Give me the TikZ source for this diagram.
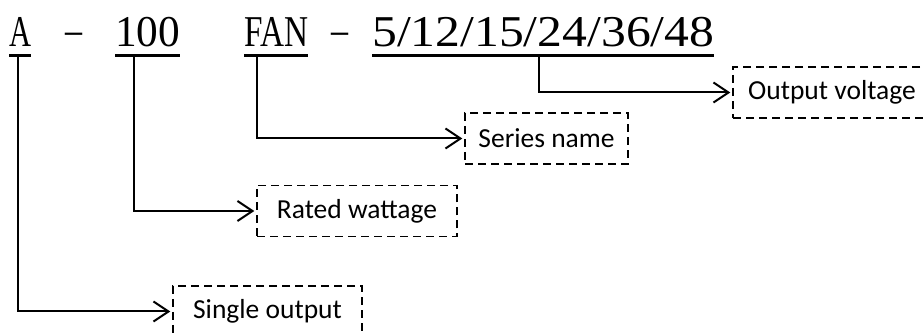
\documentclass[tikz,border=0pt]{standalone}
\usepackage{fontspec}
\setmainfont{Liberation Serif}
\newfontfamily\labelfont{Carlito}
\usetikzlibrary{arrows.meta, positioning, calc}
\newcommand{\codepart}[2]{\resizebox{#1}{\height}{#2}}

\begin{document}
\begin{tikzpicture}[x=1pt,y=-1pt,>={Straight Barb[length=15pt,width=20pt]}]
	\tikzstyle{code}=[inner sep=0pt,anchor=base west,font=\fontsize{44}{44}\selectfont]
	\tikzstyle{uline}=[line width=3pt]
	\tikzstyle{link}=[->,line width=2pt,shorten >=2pt]
	\tikzstyle{tag}=[draw,dash pattern=on 8pt off 5pt,line width=1.5pt,inner sep=0pt,minimum height=51pt,font=\labelfont\fontsize{27.5}{27.5}\selectfont]
	
	\useasboundingbox (0,0) rectangle (923,336);
	
	% model code
	\node[code] (pa)    at (9,47)   {\codepart{22pt}{A}};
	\node[code,anchor=base] (d1) at (73.5,45) {\codepart{17pt}{–}};
	\node[code] (pwatt) at (115,47) {\codepart{65pt}{100}};
	\node[code] (pfan)  at (244,47) {\codepart{64pt}{FAN}};
	\node[code,anchor=base] (d2) at (340,45) {\codepart{17pt}{–}};
	\node[code] (pvolt) at (372,47) {\codepart{342pt}{5/12/15/24/36/48}};
	
	\foreach \p in {pa,pwatt,pfan,pvolt}
		\draw[uline] ($(\p.base west)+(0,8.5)$) -- ($(\p.base east)+(0,8.5)$);
	
	% meanings
	\node[tag,minimum width=198pt] (volt)   at (832,92.5)   {Output voltage};
	\node[tag,minimum width=163pt] (series) at (546.5,138.5) {Series name};
	\node[tag,minimum width=200pt] (watt)   at (357,211)    {Rated wattage};
	\node[tag,minimum width=189pt] (single) at (267.5,311.5) {Single output};
	
	\draw[link] ($(pa.base west)+(9,10)$)      |- (single);
	\draw[link] ($(pwatt.base west)+(19,10)$)  |- (watt);
	\draw[link] ($(pfan.base west)+(13,10)$)   |- (series);
	\draw[link] ($(pvolt.base west)+(167,10)$) |- (volt);
\end{tikzpicture}
\end{document}
